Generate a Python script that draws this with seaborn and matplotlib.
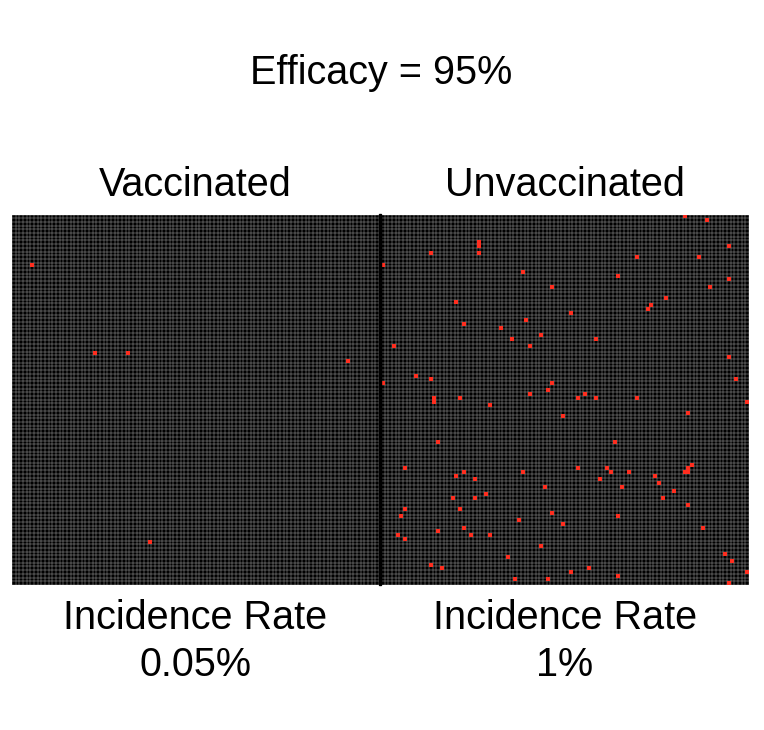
import numpy as np
import pandas as pd
import seaborn as sns
import matplotlib
matplotlib.use("Agg")
import matplotlib.pyplot as plt
from matplotlib.colors import ListedColormap
from matplotlib.patches import Rectangle

# ---------------- data ----------------
title = "Efficacy = 95%"
groups = ["Vaccinated", "Unvaccinated"]
rate_labels = ["0.05%", "1%"]
n_rows = 100
n_cols = 100

vacc_rows = [13, 37, 37, 39, 88]
vacc_cols = [5, 22, 31, 91, 37]

unvacc_rows = [7, 8, 10, 10, 13, 23, 29, 30,
               15, 16, 19, 26, 28, 32,
               0, 1, 8, 11, 11, 17, 19, 22, 24, 25,
               35, 43, 44, 45, 49, 50, 49, 51, 61,
               33, 33, 35, 45, 47, 48, 49, 48, 49, 54, 61,
               38, 44, 49, 50, 53,
               68, 70, 69, 71, 76, 76, 75, 79, 79, 81, 85, 84, 86, 87, 86, 86, 94, 95,
               69, 68, 68, 69, 71, 73, 73, 80, 82, 83, 81, 89, 92, 96, 95, 97, 98, 98,
               69, 70, 72, 74, 76, 69, 69, 68, 67, 78, 84, 91, 93, 96, 99]
unvacc_cols = [26, 26, 13, 26, 0, 20, 22, 32,
               38, 64, 46, 51, 39, 43,
               82, 88, 94, 69, 86, 94, 89, 77, 73, 72,
               3, 9, 13, 0, 14, 14, 21, 29, 15,
               35, 58, 40, 46, 45, 40, 53, 55, 58, 49, 63,
               94, 96, 69, 99, 83,
               6, 20, 22, 25, 19, 25, 28, 6, 21, 5, 15, 22, 4, 6, 24, 29, 13, 16,
               38, 53, 61, 62, 59, 44, 65, 46, 37, 49, 64, 43, 34, 51, 56, 64, 36, 45,
               67, 74, 75, 79, 76, 82, 83, 83, 84, 83, 87, 93, 95, 99, 94]

group_rows = [vacc_rows, unvacc_rows]
group_cols = [vacc_cols, unvacc_cols]

# ---------------- style ----------------
sns.set_theme(style="white")
plt.rcParams["font.family"] = ["Liberation Sans", "DejaVu Sans"]

BLACK = "#000000"
RED = "#FF2E1F"

W, H = 764, 730
fig = plt.figure(figsize=(W / 100, H / 100), dpi=100)
fig.patch.set_facecolor("white")


def fx(px):
    return px / W


def fy(py):
    return 1 - py / H


panel_x = [(12, 379), (381, 749)]
top, bottom = 214.5, 585

# dark divider between panels
fig.patches.append(Rectangle((fx(378.5), fy(bottom)), fx(2.5), (bottom - top) / H,
                             transform=fig.transFigure, color="black", zorder=0))

for i, (x0, x1) in enumerate(panel_x):
    ax = fig.add_axes([fx(x0), fy(bottom), fx(x1 - x0), (bottom - top) / H])
    grid = np.zeros((n_rows, n_cols))
    df = pd.DataFrame(grid)
    # black base of all cells
    sns.heatmap(df, ax=ax, cmap=ListedColormap([BLACK, BLACK]), vmin=0, vmax=1,
                cbar=False, xticklabels=False, yticklabels=False)
    # thin white cell borders
    ax.hlines(np.arange(n_rows + 1), 0, n_cols, colors="white", linewidth=0.3,
              alpha=0.75, zorder=2)
    ax.vlines(np.arange(n_cols + 1), 0, n_rows, colors="white", linewidth=0.3,
              alpha=0.75, zorder=2)
    # infected cells on top (cell centres)
    cases = pd.DataFrame({"col": np.array(group_cols[i]) + 0.5,
                          "row": np.array(group_rows[i]) + 0.5})
    sns.scatterplot(data=cases, x="col", y="row", ax=ax, marker="s", s=7.2,
                    color=RED, linewidth=0, zorder=3, legend=False)
    ax.set_xlim(0, n_cols)
    ax.set_ylim(n_rows, 0)
    ax.set_xticks([])
    ax.set_yticks([])
    ax.set_xlabel("")
    ax.set_ylabel("")
    for s in ax.spines.values():
        s.set_visible(False)
    cx = fx((x0 + x1) / 2)
    fig.text(cx, fy(196), groups[i], ha="center", va="baseline", fontsize=28.5, color="black")
    fig.text(cx, fy(629), "Incidence Rate", ha="center", va="baseline", fontsize=28.5, color="black")
    fig.text(cx, fy(676), rate_labels[i], ha="center", va="baseline", fontsize=28.5, color="black")

fig.text(fx(381), fy(84), title, ha="center", va="baseline", fontsize=28.5, color="black")

fig.savefig("out.png", dpi=100, facecolor="white")
